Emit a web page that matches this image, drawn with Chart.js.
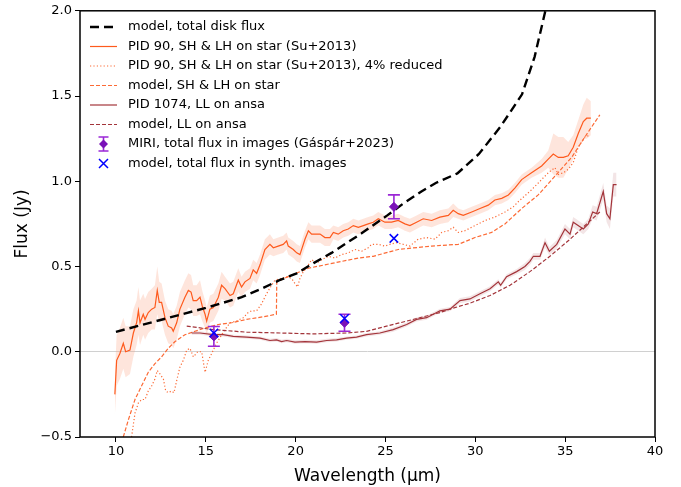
<!DOCTYPE html>
<html>
<head>
<meta charset="utf-8">
<script src="https://cdn.jsdelivr.net/npm/chart.js@4.4.1/dist/chart.umd.min.js"></script>
<style>
  body { margin: 0; background: #fff; }
  #wrap { width: 681px; height: 487px; }
</style>
</head>
<body>
<div id="wrap"><canvas id="myChart" width="681" height="487"></canvas></div>
<script>
// tick labels
const xTicks = [10, 15, 20, 25, 30, 35, 40];
const yTicks = [-0.5, 0, 0.5, 1.0, 1.5, 2.0];

// model, total disk flux
const diskWave = [10, 15, 17, 18, 19.1, 20.06, 21, 22, 23.67, 25.1, 26, 27, 27.8, 29, 30.2, 31.4, 32.6, 33.3, 33.9, 34.3];
const diskFlux = [0.117, 0.257, 0.32, 0.365, 0.42, 0.46, 0.52, 0.58, 0.695, 0.80, 0.87, 0.94, 0.99, 1.046, 1.16, 1.32, 1.51, 1.73, 2.0, 2.12];

// PID 90, SH & LH on star (Su+2013) with its uncertainty
const su13Wave = [9.94, 10.04, 10.22, 10.41, 10.54, 10.78, 10.97, 11.15, 11.25, 11.34, 11.52, 11.62, 11.8, 11.99, 12.17, 12.3, 12.41, 12.54, 12.73, 12.91, 13.1, 13.19, 13.38, 13.56, 13.84, 14.03, 14.18, 14.3, 14.49, 14.68, 14.8, 14.96, 15.05, 15.23, 15.42, 15.7, 15.88, 16.07, 16.35, 16.53, 16.81, 16.99, 17.18, 17.46, 17.64, 17.83, 18.02, 18.29, 18.57, 18.76, 19.03, 19.31, 19.5, 19.59, 19.87, 20.06, 20.24, 20.52, 20.71, 20.89, 21.08, 21.36, 21.63, 21.91, 22.1, 22.37, 22.65, 22.93, 23.21, 23.49, 23.77, 24.04, 24.32, 24.6, 24.97, 25.34, 25.71, 26.08, 26.36, 26.73, 27.1, 27.57, 28.03, 28.5, 28.77, 29.05, 29.33, 29.8, 30.26, 30.72, 31.09, 31.47, 31.84, 32.2, 32.58, 33.13, 33.69, 34.06, 34.34, 34.62, 34.9, 35.17, 35.45, 35.73, 36.01, 36.2, 36.43];
const su13Flux = [-0.25, -0.05, -0.01, 0.05, 0.0, 0.01, 0.11, 0.17, 0.24, 0.17, 0.22, 0.19, 0.23, 0.25, 0.26, 0.36, 0.29, 0.29, 0.20, 0.15, 0.14, 0.12, 0.17, 0.25, 0.32, 0.36, 0.35, 0.30, 0.30, 0.32, 0.27, 0.22, 0.18, 0.25, 0.26, 0.32, 0.39, 0.37, 0.33, 0.34, 0.42, 0.38, 0.41, 0.43, 0.48, 0.46, 0.51, 0.60, 0.63, 0.61, 0.62, 0.63, 0.65, 0.62, 0.60, 0.58, 0.57, 0.66, 0.71, 0.69, 0.69, 0.69, 0.67, 0.67, 0.70, 0.69, 0.71, 0.72, 0.74, 0.73, 0.74, 0.75, 0.76, 0.78, 0.76, 0.76, 0.77, 0.75, 0.74, 0.76, 0.78, 0.77, 0.79, 0.80, 0.83, 0.81, 0.80, 0.82, 0.84, 0.86, 0.89, 0.90, 0.92, 0.96, 1.01, 1.05, 1.09, 1.13, 1.16, 1.14, 1.14, 1.15, 1.20, 1.28, 1.35, 1.37, 1.37];
const su13Err = [0.12, 0.15, 0.15, 0.15, 0.15, 0.14, 0.14, 0.13, 0.14, 0.13, 0.12, 0.12, 0.12, 0.12, 0.13, 0.14, 0.12, 0.11, 0.10, 0.10, 0.10, 0.10, 0.10, 0.10, 0.10, 0.10, 0.10, 0.09, 0.09, 0.10, 0.09, 0.08, 0.08, 0.08, 0.08, 0.08, 0.08, 0.07, 0.07, 0.07, 0.07, 0.06, 0.06, 0.06, 0.06, 0.06, 0.06, 0.06, 0.06, 0.05, 0.05, 0.05, 0.05, 0.05, 0.05, 0.05, 0.05, 0.05, 0.05, 0.05, 0.05, 0.05, 0.05, 0.05, 0.04, 0.04, 0.04, 0.04, 0.04, 0.04, 0.04, 0.04, 0.04, 0.04, 0.04, 0.04, 0.04, 0.04, 0.04, 0.04, 0.04, 0.04, 0.04, 0.04, 0.04, 0.03, 0.03, 0.03, 0.03, 0.03, 0.03, 0.03, 0.03, 0.03, 0.03, 0.03, 0.04, 0.05, 0.12, 0.12, 0.12, 0.08, 0.07, 0.08, 0.10, 0.12, 0.10];

// PID 90, 4% reduced
const su13RedWave = [10.87, 11.06, 11.25, 11.43, 11.62, 11.8, 11.99, 12.17, 12.3, 12.45, 12.64, 12.77, 12.91, 13.1, 13.23, 13.38, 13.56, 13.75, 13.94, 14.12, 14.31, 14.55, 14.77, 14.96, 15.14, 15.33, 15.6, 16.0, 16.35, 16.71, 17.09, 17.36, 17.55, 17.83, 18.1, 18.38, 18.66, 18.85, 19.22, 19.5, 19.78, 19.96, 20.11, 20.24, 20.43, 20.71, 20.89, 21.17, 21.45, 21.82, 22.19, 22.56, 22.93, 23.3, 23.68, 24.04, 24.23, 24.6, 24.97, 25.25, 25.62, 25.99, 26.36, 26.82, 27.29, 27.76, 28.13, 28.5, 28.77, 29.05, 29.42, 29.98, 30.54, 31.09, 31.65, 32.11, 32.39, 33.13, 33.69, 34.06, 34.43, 34.62, 34.9, 35.17, 35.45, 35.73, 36.1, 36.38];
const su13RedFlux = [-0.5, -0.36, -0.30, -0.28, -0.28, -0.23, -0.20, -0.16, -0.11, -0.13, -0.16, -0.23, -0.24, -0.23, -0.24, -0.17, -0.09, -0.05, 0.01, 0.02, -0.03, 0.0, 0.0, -0.12, -0.05, -0.01, 0.05, 0.12, 0.17, 0.18, 0.20, 0.23, 0.24, 0.24, 0.28, 0.34, 0.39, 0.42, 0.43, 0.44, 0.43, 0.40, 0.38, 0.43, 0.47, 0.51, 0.54, 0.52, 0.54, 0.56, 0.55, 0.57, 0.58, 0.60, 0.59, 0.61, 0.63, 0.63, 0.62, 0.63, 0.64, 0.63, 0.62, 0.66, 0.67, 0.66, 0.70, 0.71, 0.73, 0.70, 0.71, 0.74, 0.77, 0.79, 0.82, 0.85, 0.88, 0.95, 1.01, 1.05, 1.08, 1.04, 1.05, 1.07, 1.11, 1.20, 1.26, 1.27];

// model, SH & LH on star
const modelStarWave = [10.41, 10.69, 11.06, 11.43, 11.8, 12.17, 12.54, 12.91, 13.29, 13.84, 14.4, 14.96, 15.7, 16.44, 17.27, 18.2, 18.93, 18.95, 19.78, 20.71, 21.63, 22.56, 23.49, 24.32, 25.71, 27.57, 29.05, 29.98, 30.91, 31.65, 32.58, 33.5, 34.43, 35.36, 36.1, 36.93];
const modelStarFlux = [-0.50, -0.40, -0.28, -0.20, -0.12, -0.07, -0.03, 0.02, 0.06, 0.10, 0.12, 0.14, 0.16, 0.17, 0.19, 0.205, 0.22, 0.41, 0.45, 0.49, 0.51, 0.53, 0.55, 0.56, 0.60, 0.62, 0.63, 0.67, 0.70, 0.75, 0.84, 0.92, 1.03, 1.14, 1.26, 1.39];

// PID 1074, LL on ansa with its uncertainty
const ansaWave = [14.21, 14.68, 15.42, 15.97, 16.53, 17.27, 18.02, 18.57, 18.94, 19.22, 19.5, 19.96, 20.52, 21.17, 21.73, 22.28, 22.84, 23.39, 23.95, 24.69, 25.43, 26.18, 26.73, 27.29, 27.85, 28.03, 28.59, 29.15, 29.7, 30.26, 30.82, 31.28, 31.41, 31.74, 32.3, 32.76, 33.04, 33.23, 33.6, 33.88, 34.12, 34.53, 34.99, 35.27, 35.45, 36.01, 36.29, 36.53, 36.75, 37.12, 37.31, 37.49, 37.68, 37.86];
const ansaFlux = [0.11, 0.11, 0.10, 0.10, 0.09, 0.086, 0.08, 0.066, 0.07, 0.06, 0.066, 0.057, 0.06, 0.057, 0.066, 0.07, 0.08, 0.086, 0.10, 0.11, 0.13, 0.16, 0.19, 0.20, 0.23, 0.24, 0.25, 0.30, 0.31, 0.34, 0.37, 0.41, 0.39, 0.44, 0.47, 0.50, 0.53, 0.56, 0.56, 0.64, 0.59, 0.63, 0.72, 0.69, 0.76, 0.72, 0.75, 0.82, 0.81, 0.94, 0.81, 0.78, 0.98, 0.98];
const ansaErr = [0.01, 0.01, 0.01, 0.01, 0.01, 0.01, 0.01, 0.01, 0.01, 0.01, 0.01, 0.01, 0.01, 0.01, 0.01, 0.01, 0.01, 0.01, 0.01, 0.01, 0.012, 0.012, 0.012, 0.012, 0.012, 0.012, 0.012, 0.015, 0.015, 0.015, 0.015, 0.015, 0.015, 0.015, 0.015, 0.02, 0.02, 0.02, 0.02, 0.03, 0.025, 0.025, 0.03, 0.03, 0.03, 0.03, 0.03, 0.04, 0.04, 0.05, 0.05, 0.06, 0.07, 0.07];

// model, LL on ansa
const modelAnsaWave = [13.94, 15.42, 17.27, 19.13, 20.98, 22.84, 23.95, 25.06, 26.18, 27.29, 28.03, 28.59, 29.7, 30.82, 31.93, 33.04, 34.15, 35.27, 36.2, 36.93];
const modelAnsaFlux = [0.15, 0.13, 0.115, 0.11, 0.105, 0.11, 0.12, 0.15, 0.18, 0.21, 0.23, 0.25, 0.285, 0.33, 0.39, 0.47, 0.56, 0.66, 0.75, 0.82];

// MIRI photometry and synthetic image fluxes
const miriWave = [15.45, 22.72, 25.47];
const miriFlux = [0.09, 0.17, 0.85];
const miriErr = [0.058, 0.05, 0.07];
const synthWave = [15.45, 22.72, 25.47];
const synthFlux = [0.11, 0.195, 0.665];

const legendLabels = [
  'model, total disk flux',
  'PID 90, SH & LH on star (Su+2013)',
  'PID 90, SH & LH on star (Su+2013), 4% reduced',
  'model, SH & LH on star',
  'PID 1074, LL on ansa',
  'model, LL on ansa',
  'MIRI, total flux in images (Gáspár+2023)',
  'model, total flux in synth. images'
];

const orange = '#fe5a1d';
const orange2 = '#fc6a35';
const darkred = '#a3343a';
const purple = '#9b27d6';
const purpleDark = '#7a12b8';

function pts(xs, ys) {
  return xs.map((x, i) => ({x: x, y: ys[i]}));
}
function shifted(xs, ys, es, sign) {
  return xs.map((x, i) => ({x: x, y: ys[i] + sign * es[i]}));
}
function errBars(xs, ys, es) {
  let out = [];
  xs.forEach((x, i) => {
    out.push({x: x, y: ys[i] - es[i]});
    out.push({x: x, y: ys[i] + es[i]});
    out.push({x: x, y: null});
  });
  return out;
}

function lineDs(data, color, width, dash, order) {
  return {
    data: data, borderColor: color, borderWidth: width, borderDash: dash,
    pointRadius: 0, fill: false, tension: 0, order: order
  };
}

const datasets = [
  // bands (drawn at the back)
  {data: shifted(su13Wave, su13Flux, su13Err, 1), borderWidth: 0, pointRadius: 0,
   backgroundColor: 'rgba(253,160,130,0.28)', fill: '+1', order: 20},
  {data: shifted(su13Wave, su13Flux, su13Err, -1), borderWidth: 0, pointRadius: 0, fill: false, order: 21},
  {data: shifted(ansaWave, ansaFlux, ansaErr, 1), borderWidth: 0, pointRadius: 0,
   backgroundColor: 'rgba(163,52,58,0.13)', fill: '+1', order: 22},
  {data: shifted(ansaWave, ansaFlux, ansaErr, -1), borderWidth: 0, pointRadius: 0, fill: false, order: 23},

  lineDs(pts(diskWave, diskFlux), '#000000', 2.4, [9, 5], 4),
  lineDs(pts(su13Wave, su13Flux), orange, 1.2, [], 9),
  lineDs(pts(su13RedWave, su13RedFlux), orange2, 1.2, [1.2, 2.2], 8),
  lineDs(pts(modelStarWave, modelStarFlux), orange2, 1.2, [4, 2], 7),
  lineDs(pts(ansaWave, ansaFlux), darkred, 1.2, [], 6),
  lineDs(pts(modelAnsaWave, modelAnsaFlux), darkred, 1.2, [4, 2], 5),

  // error bars
  {data: errBars(miriWave, miriFlux, miriErr), borderColor: purple, borderWidth: 1.6,
   pointStyle: 'line', pointRadius: 6, pointBorderColor: purple, pointBorderWidth: 1.6,
   spanGaps: false, fill: false, order: 3},
  {data: pts(miriWave, miriFlux), showLine: false, pointStyle: 'rectRot', pointRadius: 4.5,
   backgroundColor: purpleDark, borderColor: purpleDark, order: 2},
  {data: pts(synthWave, synthFlux), showLine: false, pointStyle: 'crossRot', pointRadius: 6,
   borderColor: '#0000ff', borderWidth: 1.5, order: 1}
];

const legendItems = [
  {kind: 'line', color: '#000000', width: 2.4, dash: [9, 5]},
  {kind: 'line', color: orange, width: 1.2, dash: []},
  {kind: 'line', color: orange2, width: 1.2, dash: [1.2, 2.2]},
  {kind: 'line', color: orange2, width: 1.2, dash: [4, 2]},
  {kind: 'line', color: darkred, width: 1.2, dash: []},
  {kind: 'line', color: darkred, width: 1.2, dash: [4, 2]},
  {kind: 'errorbar'},
  {kind: 'cross'}
];

const framePlugin = {
  id: 'frame',
  afterDraw(chart) {
    const ctx = chart.ctx, a = chart.chartArea;
    ctx.save();
    ctx.strokeStyle = '#000';
    ctx.lineWidth = 1.5;
    ctx.strokeRect(a.left, a.top, a.right - a.left, a.bottom - a.top);

    // legend in upper left
    ctx.font = '13px "DejaVu Sans"';
    ctx.textBaseline = 'middle';
    ctx.fillStyle = '#000';
    const x0 = 90, x1 = 117, tx = 128, y0 = 27, dy = 19.5;
    legendItems.forEach((it, i) => {
      const y = y0 + i * dy;
      ctx.save();
      if (it.kind === 'line') {
        ctx.strokeStyle = it.color;
        ctx.lineWidth = it.width;
        ctx.setLineDash(it.dash);
        ctx.beginPath();
        ctx.moveTo(x0, y);
        ctx.lineTo(x1, y);
        ctx.stroke();
      } else if (it.kind === 'errorbar') {
        const cx = (x0 + x1) / 2;
        ctx.strokeStyle = purple;
        ctx.lineWidth = 1.6;
        ctx.beginPath();
        ctx.moveTo(cx, y - 7); ctx.lineTo(cx, y + 7);
        ctx.moveTo(cx - 5, y - 7); ctx.lineTo(cx + 5, y - 7);
        ctx.moveTo(cx - 5, y + 7); ctx.lineTo(cx + 5, y + 7);
        ctx.stroke();
        ctx.fillStyle = purpleDark;
        ctx.beginPath();
        ctx.moveTo(cx, y - 4.5); ctx.lineTo(cx + 4.5, y); ctx.lineTo(cx, y + 4.5); ctx.lineTo(cx - 4.5, y);
        ctx.closePath();
        ctx.fill();
      } else {
        const cx = (x0 + x1) / 2;
        ctx.strokeStyle = '#0000ff';
        ctx.lineWidth = 1.5;
        ctx.beginPath();
        ctx.moveTo(cx - 4.5, y - 4.5); ctx.lineTo(cx + 4.5, y + 4.5);
        ctx.moveTo(cx + 4.5, y - 4.5); ctx.lineTo(cx - 4.5, y + 4.5);
        ctx.stroke();
      }
      ctx.restore();
      ctx.fillText(legendLabels[i], tx, y);
    });
    ctx.restore();
  }
};

const myChart = document.getElementById('myChart');
new Chart(myChart, {
  type: 'line',
  data: {datasets: datasets},
  options: {
    responsive: false,
    animation: false,
    events: [],
    layout: {padding: {top: 10, right: 26, left: 0, bottom: 0}},
    plugins: {legend: {display: false}, tooltip: {enabled: false}},
    scales: {
      x: {
        type: 'linear', min: 8, max: 40,
        afterBuildTicks: s => { s.ticks = xTicks.map(v => ({value: v})); },
        afterFit: s => { s.height = 50; },
        grid: {drawOnChartArea: false, tickLength: 5, tickColor: '#000', tickWidth: 1},
        border: {display: false},
        ticks: {color: '#000', font: {family: 'DejaVu Sans', size: 13}, padding: 2, maxRotation: 0,
                callback: v => String(v)},
        title: {display: true, text: 'Wavelength (µm)', color: '#000',
                font: {family: 'DejaVu Sans', size: 17}, padding: {top: 2, bottom: 0}}
      },
      y: {
        type: 'linear', min: -0.5, max: 2.0,
        afterBuildTicks: s => { s.ticks = yTicks.map(v => ({value: v})); },
        afterFit: s => { s.width = 80; },
        grid: {
          drawOnChartArea: true, tickLength: 5, tickColor: '#000', tickWidth: 1,
          color: c => (c.tick && c.tick.value === 0) ? '#d0d0d0' : 'rgba(0,0,0,0)',
          lineWidth: 1
        },
        border: {display: false},
        ticks: {color: '#000', font: {family: 'DejaVu Sans', size: 13}, padding: 3,
                callback: v => v.toFixed(1).replace('-', '\u2212')},
        title: {display: true, text: 'Flux (Jy)', color: '#000',
                font: {family: 'DejaVu Sans', size: 17}, padding: {top: 12, bottom: 4}}
      }
    }
  },
  plugins: [framePlugin]
});
</script>
</body>
</html>
